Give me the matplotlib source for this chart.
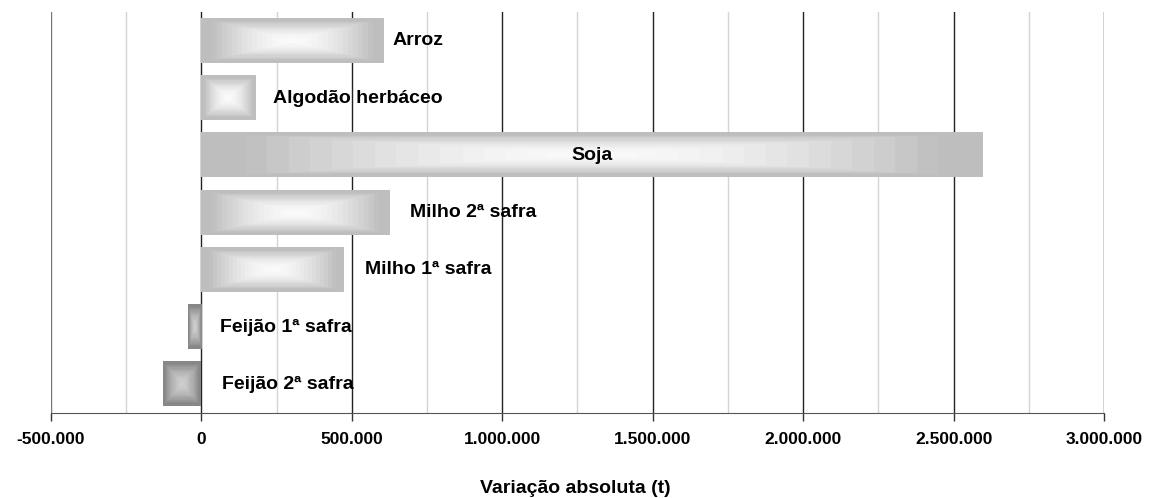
import numpy as np
import matplotlib.pyplot as plt
from matplotlib.ticker import FuncFormatter, MultipleLocator

# dados
culturas = ["Arroz", "Algodão herbáceo", "Soja", "Milho 2ª safra",
            "Milho 1ª safra", "Feijão 1ª safra", "Feijão 2ª safra"]
variacao = [605000, 180000, 2598000, 625000, 475000, -46000, -126000]

# onde cada rotulo comeca (Soja fica centrado na barra)
pos_rotulo = [635000, 239000, None, 694000, 545000, 63000, 70000]

plt.rcParams['font.family'] = ['Liberation Sans', 'DejaVu Sans']

fig = plt.figure(figsize=(11.5, 4.98), dpi=100)
ax = fig.add_axes([0.0443, 0.1707, 0.9157, 0.805])

altura = 0.77
ny, nx = 80, 400
u = np.linspace(-1, 1, nx)
v = np.linspace(-1, 1, ny)
U, V = np.meshgrid(u, v)
d = np.maximum(np.abs(U), np.abs(V))
d = np.floor(d * 18) / 18  # faixas como no Excel

for i, val in enumerate(variacao):
    if val >= 0:
        borda, centro = 190, 250
    else:
        borda, centro = 135, 205
    g = (centro + (borda - centro) * np.clip(d * 1.15, 0, 1) ** 1.6) / 255.0
    img = np.dstack([g, g, g])
    x0, x1 = min(0, val), max(0, val)
    ax.imshow(img, extent=(x0, x1, i + altura / 2, i - altura / 2),
              aspect='auto', interpolation='nearest', zorder=3)

    if pos_rotulo[i] is None:
        ax.text(val / 2, i, culturas[i], ha='center', va='center',
                fontsize=14, fontweight='bold', zorder=4)
    else:
        ax.text(pos_rotulo[i], i, culturas[i], ha='left', va='center',
                fontsize=14, fontweight='bold', zorder=4)

ax.set_xlim(-500000, 3000000)
ax.set_ylim(len(culturas) - 0.5, -0.5)

# grade: clara a cada 250 mil, escura a cada 500 mil
for xg in np.arange(-250000, 3000000, 500000):
    ax.axvline(xg, color='#d4d4d4', lw=1, zorder=1)
for xg in np.arange(-500000, 3000001, 500000):
    ax.axvline(xg, color='#222222' if xg != -500000 else '#777777', lw=1, zorder=1)

ax.xaxis.set_major_locator(MultipleLocator(500000))
ax.xaxis.set_major_formatter(FuncFormatter(
    lambda x, p: f"{int(x):,}".replace(",", ".")))
ax.tick_params(axis='x', direction='out', length=6, width=1, color='#333333',
               labelsize=12.5, pad=8)
for t in ax.get_xticklabels():
    t.set_fontweight('bold')
ax.set_yticks([])

for s in ['top', 'right', 'left']:
    ax.spines[s].set_visible(False)
ax.spines['bottom'].set_color('#555555')

fig.text(0.5, 1 - 488 / 498, "Variação absoluta (t)", ha='center', va='center',
         fontsize=14, fontweight='bold')

plt.savefig("out.png", dpi=100)
